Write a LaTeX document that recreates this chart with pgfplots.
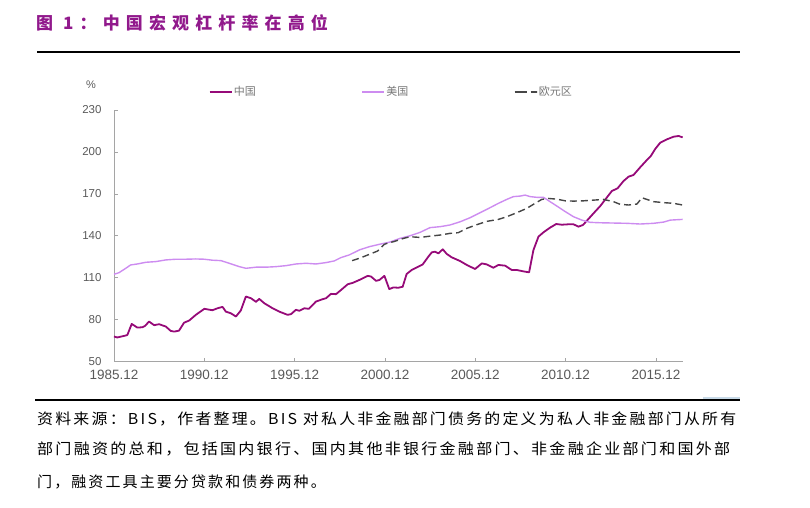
\documentclass[border=0pt]{standalone}
\usepackage{pgfplots}
\pgfplotsset{compat=1.18}
\usepackage{fontspec}
\usepackage{graphicx}
\setmainfont{Liberation Sans}
\newfontfamily\cjk{Noto Sans CJK SC}
\newfontfamily\cjktitle[LetterSpace=36]{Noto Sans CJK SC}
\newfontfamily\cjknote[LetterSpace=14]{Noto Sans CJK SC}
\definecolor{cn}{RGB}{150,10,120}
\definecolor{us}{RGB}{205,140,240}
\definecolor{eu}{RGB}{70,70,70}
\definecolor{titlec}{RGB}{145,25,140}
\definecolor{labgray}{RGB}{90,90,90}
\definecolor{leggray}{RGB}{120,120,120}
\definecolor{axgray}{RGB}{165,165,165}
\definecolor{lblue}{RGB}{200,218,232}

\pgfplotstableread{
x y
1986.00 67.9
1986.18 67.2
1986.65 68.6
1986.74 69.0
1986.98 76.9
1987.29 74.3
1987.57 74.5
1987.72 75.5
1987.94 78.6
1988.22 76.0
1988.50 76.7
1988.87 75.0
1989.14 71.9
1989.33 71.4
1989.60 72.1
1989.88 77.8
1990.16 79.3
1990.53 83.4
1991.00 87.7
1991.45 86.7
1991.73 88.1
1992.01 89.1
1992.19 85.7
1992.47 84.5
1992.75 82.2
1993.02 86.5
1993.30 96.5
1993.58 95.3
1993.86 92.7
1994.04 94.8
1994.32 91.7
1994.78 88.1
1995.15 85.7
1995.61 83.4
1995.80 83.9
1996.07 87.0
1996.26 86.3
1996.54 88.1
1996.78 87.7
1997.18 92.9
1997.55 94.6
1997.74 95.3
1998.01 98.4
1998.29 98.2
1998.57 101.2
1998.94 105.3
1999.22 106.3
1999.59 108.4
2000.05 111.3
2000.23 110.8
2000.51 107.7
2000.70 108.4
2000.97 111.3
2001.24 101.8
2001.46 103.0
2001.74 102.8
2001.98 103.5
2002.20 112.6
2002.48 115.5
2002.85 117.9
2003.09 119.5
2003.40 125.0
2003.59 128.1
2003.77 128.6
2003.96 127.4
2004.20 130.3
2004.42 127.0
2004.69 124.6
2005.16 121.9
2005.53 119.1
2005.99 116.2
2006.36 120.2
2006.63 119.5
2007.00 117.1
2007.28 119.1
2007.65 118.6
2008.02 115.5
2008.30 115.5
2008.67 114.5
2008.98 113.8
2009.22 129.8
2009.50 139.4
2009.78 142.5
2010.14 145.8
2010.48 148.4
2010.79 147.9
2011.16 148.2
2011.44 148.2
2011.71 146.5
2011.96 147.7
2012.18 150.8
2012.55 156.1
2012.92 161.3
2013.29 167.5
2013.56 172.0
2013.88 174.0
2014.21 179.2
2014.49 182.3
2014.76 183.5
2015.13 189.0
2015.50 194.2
2015.72 197.1
2015.96 202.1
2016.24 206.6
2016.61 209.0
2016.98 210.9
2017.26 211.4
2017.48 210.4
}\china

\pgfplotstableread{
x y
1986.00 112.4
1986.28 113.6
1986.65 116.7
1986.92 119.1
1987.29 119.8
1987.76 121.0
1988.31 121.5
1988.87 122.7
1989.42 123.2
1989.97 123.2
1990.53 123.4
1991.00 123.2
1991.45 122.5
1991.92 122.2
1992.38 120.3
1992.93 117.9
1993.30 116.7
1993.86 117.5
1994.41 117.5
1994.97 117.9
1995.52 118.6
1996.07 119.8
1996.63 120.3
1997.18 119.8
1997.74 120.8
1998.20 122.0
1998.57 124.4
1999.03 126.3
1999.59 129.9
2000.14 132.2
2000.70 133.9
2001.28 135.5
2001.83 138.1
2002.39 140.0
2002.94 142.4
2003.49 145.8
2004.05 146.5
2004.60 147.7
2005.16 150.0
2005.71 152.9
2006.27 156.5
2006.82 160.1
2007.28 163.2
2007.74 166.0
2008.11 168.0
2008.48 168.4
2008.76 169.1
2009.04 168.0
2009.41 167.5
2009.78 167.5
2010.14 164.4
2010.51 161.3
2010.98 157.3
2011.44 153.6
2011.90 151.2
2012.36 149.6
2012.92 149.3
2013.65 149.1
2014.39 148.9
2015.13 148.4
2015.87 148.9
2016.43 149.8
2016.80 151.2
2017.48 151.7
}\usa

\pgfplotstableread{
x y
1999.18 122.2
1999.59 123.9
2000.14 126.7
2000.60 129.1
2000.97 133.9
2001.25 135.1
2001.46 135.7
2002.02 138.1
2002.39 139.3
2002.94 138.8
2003.49 139.7
2004.05 140.5
2004.60 141.7
2005.06 142.2
2005.53 145.3
2006.08 147.9
2006.63 150.3
2007.28 151.7
2007.74 153.6
2008.30 156.5
2008.85 159.6
2009.31 163.2
2009.68 166.0
2010.05 166.7
2010.51 166.2
2010.98 165.0
2011.44 164.8
2011.99 165.0
2012.55 165.5
2013.10 166.0
2013.65 164.4
2014.02 162.5
2014.49 162.0
2014.95 162.7
2015.23 167.2
2015.50 166.0
2015.87 164.4
2016.43 163.7
2016.98 163.2
2017.48 162.0
}\euro

\begin{document}
\begin{tikzpicture}[x=1pt,y=1pt]
\path (0,0) rectangle (810,507);
% title
\node[anchor=west, inner sep=0pt, text=titlec] at (36,484)
  {\cjktitle\fontsize{17}{19}\selectfont\bfseries 图 1：中国宏观杠杆率在高位};
\draw[line width=1.1pt] (37,455) -- (740,455);
\draw[line width=1.1pt] (35,107) -- (740,107);
\fill[lblue] (703,107.8) rectangle (740,110);
% footnote
\node[anchor=west, inner sep=0pt] at (37,88)
  {\resizebox{699pt}{\height}{\cjknote\fontsize{15}{18}\selectfont 资料来源：BIS，作者整理。BIS 对私人非金融部门债务的定义为私人非金融部门从所有}};
\node[anchor=west, inner sep=0pt] at (37,58)
  {\resizebox{693pt}{\height}{\cjknote\fontsize{15}{18}\selectfont 部门融资的总和，包括国内银行、国内其他非银行金融部门、非金融企业部门和国外部}};
\node[anchor=west, inner sep=0pt] at (37,25)
  {\cjknote\fontsize{15}{18}\selectfont 门，融资工具主要分贷款和债券两种。};
\node[text=labgray, font=\fontsize{11}{12}\selectfont, inner sep=0pt] at (91,422) {\%};

\begin{axis}[
  at={(114pt,145.5pt)}, anchor=south west,
  scale only axis, width=569pt, height=251.5pt,
  xmin=1986, xmax=2017.5, ymin=50, ymax=230,
  xtick={1986,1991,1996,2001,2006,2011,2016},
  xticklabels={1985.12,1990.12,1995.12,2000.12,2005.12,2010.12,2015.12},
  ytick={50,80,110,140,170,200,230},
  axis lines*=left,
  axis line style={draw=axgray, line width=0.8pt},
  tick style={draw=axgray, line width=0.6pt},
  tick align=inside, major tick length=4pt,
  /pgf/number format/assume math mode=true,
  xticklabel style={text=labgray, font=\fontsize{13.5}{14}\selectfont, yshift=-5pt},
  yticklabel style={text=labgray, font=\fontsize{11.5}{12}\selectfont, xshift=-9pt},
  clip=false,
  legend columns=3,
  legend style={at={(0.166,1.072)}, anchor=west, draw=none, fill=none, inner sep=0pt,
    nodes={inner sep=1.5pt, text=leggray, font=\cjk\fontsize{11}{12}\selectfont}},
  legend image code/.code={\draw[#1] (0pt,0pt) -- (22pt,0pt);},
]
\addplot[cn, line width=1.8pt, line join=round] table[x=x,y=y] {\china};
\addlegendentry{\makebox[126pt][l]{中国}}
\addplot[us, line width=1.4pt, line join=round] table[x=x,y=y] {\usa};
\addlegendentry{\makebox[126pt][l]{美国}}
\addplot[eu, line width=1.4pt, dash pattern=on 7pt off 4pt,
  legend image code/.code={\draw[eu, line width=1.4pt, dash pattern=on 12pt off 4pt on 6pt off 0pt] (0pt,0pt) -- (22pt,0pt);}] table[x=x,y=y] {\euro};
\addlegendentry{欧元区}
\end{axis}
\end{tikzpicture}
\end{document}
